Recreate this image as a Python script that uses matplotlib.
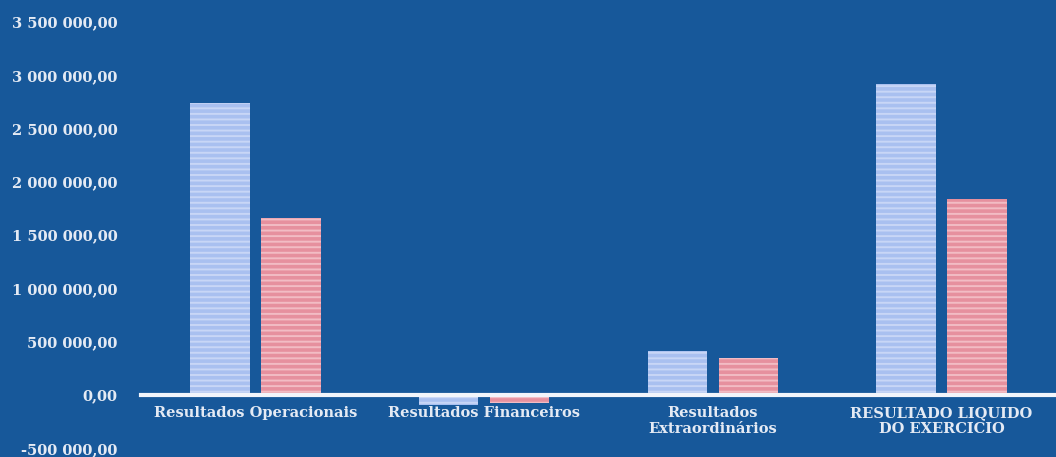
import numpy as np
import matplotlib.pyplot as plt
from matplotlib.ticker import FuncFormatter

categories = ["Resultados Operacionais", "Resultados Financeiros",
              "Resultados\nExtraordinários", "RESULTADO LIQUIDO\nDO EXERCICIO"]
serie_a = [2740000, -95000, 410000, 2920000]
serie_b = [1660000, -75000, 350000, 1840000]
y_ticks = [-500000, 0, 500000, 1000000, 1500000, 2000000, 2500000, 3000000, 3500000]

BG = "#17589a"
TXT = "#e4eaf4"

plt.rcParams["font.family"] = ["DejaVu Serif"]
plt.rcParams["hatch.color"] = "#f4f7ff"
plt.rcParams["hatch.linewidth"] = 1.4


def fmt_pt(v, pos):
    s = f"{abs(v):,.2f}".replace(",", " ").replace(".", ",")
    return ("-" if v < 0 else "") + s


fig = plt.figure(figsize=(10.56, 4.57), dpi=100, facecolor=BG)
ax = fig.add_axes([0.1335, 0.0, 0.8665, 1.0], facecolor=BG)

x = np.arange(len(categories))
w = 0.26
off = 0.155
ax.bar(x - off, serie_a, w, color="#a9c0f0", hatch="---", edgecolor="#c8d6f6", linewidth=0, zorder=3)
ax.bar(x + off, serie_b, w, color="#e6909e", hatch="---", edgecolor="#f2bcc4", linewidth=0, zorder=3)

ax.set_xlim(-0.5, 3.5)
ax.set_ylim(-580000, 3705000)
ax.set_yticks(y_ticks)
ax.yaxis.set_major_formatter(FuncFormatter(fmt_pt))
ax.set_xticks(x)
ax.set_xticklabels(categories, linespacing=1.15)

for side in ["top", "right", "left"]:
    ax.spines[side].set_visible(False)
ax.spines["bottom"].set_position(("data", 0))
ax.spines["bottom"].set_color("#f2f5fb")
ax.spines["bottom"].set_linewidth(3)
ax.spines["bottom"].set_zorder(4)
ax.tick_params(axis="x", length=0, pad=8, labelsize=10.5, labelcolor=TXT)
ax.tick_params(axis="y", length=0, pad=17, labelsize=10.5, labelcolor=TXT)
for lbl in ax.get_xticklabels() + ax.get_yticklabels():
    lbl.set_fontweight("bold")

fig.savefig("out.png", dpi=100, facecolor=BG)
